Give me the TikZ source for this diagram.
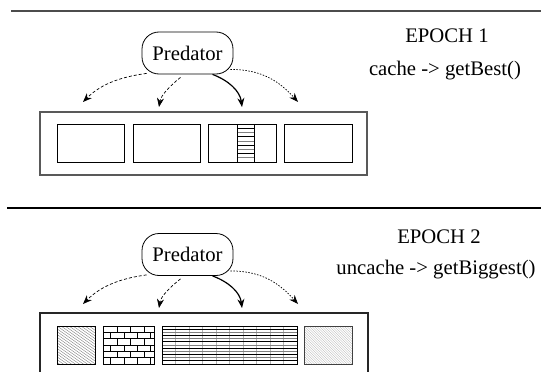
\documentclass[tikz,border=0pt]{standalone}
\usepackage{fontspec}
\setmainfont{Liberation Serif}
\usetikzlibrary{arrows.meta}
\begin{document}
\begin{tikzpicture}[x=1pt,y=-1pt,
  pred/.style={draw, rounded corners=17pt, minimum width=91pt, minimum height=42pt,
    line width=0.8pt, inner sep=0pt, font=\fontsize{20.7}{24}\selectfont},
  lbl/.style={anchor=base, inner sep=0pt, font=\fontsize{20.7}{24}\selectfont},
  cell/.style={draw, line width=0.9pt},
  outerbox/.style={draw=black!65, line width=1.3pt},
  sep/.style={line width=1.2pt},
  tip/.style={-{Stealth[length=9pt,width=7pt]}},
  dasharr/.style={tip, line width=0.7pt, dash pattern=on 3pt off 2pt},
  dotarr/.style={tip, line width=0.7pt, dash pattern=on 1.5pt off 1.5pt},
  solidarr/.style={tip, line width=1.2pt},
  hatch/.style={line width=0.4pt, draw=gray},
  fine/.style={line width=0.35pt, draw=gray!75},
  brick/.style={line width=0.6pt},
  hblack/.style={line width=0.8pt},
  hgray/.style={line width=0.6pt, draw=gray},
  vfaint/.style={line width=0.3pt, draw=gray!60}]
\clip (0,0) rectangle (541,372);
\fill[white] (0,0) rectangle (541,372);

% ---------------- EPOCH 1 ----------------
\draw[sep, black!70] (11,11) coordinate (s1a) -- (541,11) coordinate (s1b);
\node[lbl] (e1) at (447,42) {EPOCH 1};
\node[lbl] (c1) at (445,75) {cache -> getBest()};
\node[pred] (p1) at (187.5,53) {Predator};

\node[outerbox, minimum width=327pt, minimum height=63pt, inner sep=0pt] (o1) at (203.5,143.5) {};
\node[cell, minimum width=67pt, minimum height=38pt, inner sep=0pt] (a1) at (90.5,143) {};
\node[cell, minimum width=67pt, minimum height=38pt, inner sep=0pt] (a2) at (166.5,143) {};
% stripe inside third cell
\foreach \k in {1,3,5,7} \draw[hblack] (237,124+\k*38/9) -- (254,124+\k*38/9);
\foreach \k in {2,4,6,8} \draw[hgray] (237,124+\k*38/9) -- (254,124+\k*38/9);
\draw[line width=0.8pt] (237,124) -- (237,162) (254,124) -- (254,162);
\node[cell, minimum width=68pt, minimum height=38pt, inner sep=0pt] (a3) at (242,143) {};
\node[cell, minimum width=68pt, minimum height=38pt, inner sep=0pt] (a4) at (318,143) {};

\coordinate (t11) at (83,102);
\coordinate (t12) at (159,107);
\coordinate (t13) at (242,107);
\coordinate (t14) at (298,102);
\draw[dasharr] ([xshift=5pt,yshift=1pt]p1.south west) .. controls +(-30,4) and +(16,-16) .. (t11);
\draw[dasharr] ([xshift=-7pt,yshift=-3pt]p1.south) .. controls +(-10,8) and +(2,-12) .. (t12);
\draw[solidarr] ([xshift=25pt]p1.south) .. controls +(16,6) and +(-2,-16) .. (t13);
\draw[dotarr] ([xshift=-3pt,yshift=5pt]p1.south east) .. controls +(32,0) and +(-18,-20) .. (t14);

% ---------------- EPOCH 2 ----------------
\draw[sep, black] (7,208) coordinate (s2a) -- (541,208) coordinate (s2b);
\node[lbl] (e2) at (439,243) {EPOCH 2};
\node[lbl] (c2) at (436,274) {uncache -> getBiggest()};
\node[pred] (p2) at (187.5,254.5) {Predator};

\node[outerbox, draw=black!85, minimum width=328pt, minimum height=80pt, inner sep=0pt] (o2) at (204,353) {};

% box 1: diagonal hatch
\begin{scope}
\clip (57,326) rectangle (95,364);
\foreach \i in {-64,-60,...,40} \draw[hatch] (57+\i,326) -- ++(60,42);
\end{scope}
\node[cell, minimum width=38pt, minimum height=38pt, inner sep=0pt] (b1) at (76,345) {};

% box 2: bricks
\foreach \r in {1,...,5} \draw[brick] (103,326+\r*38/6) -- (154,326+\r*38/6);
\foreach \r in {0,2,4} \foreach \x in {117.3,130.7,144} \draw[brick] (\x,326+\r*38/6) -- ++(0,38/6);
\foreach \r in {1,3,5} \foreach \x in {110.7,124,137.3,150.7} \draw[brick] (\x,326+\r*38/6) -- ++(0,38/6);
\node[cell, minimum width=51pt, minimum height=38pt, inner sep=0pt] (b2) at (128.5,345) {};

% box 3: horizontal lines
\foreach \x in {175.5,189,...,296} \draw[vfaint] (\x,326) -- (\x,364);
\foreach \k in {1,3,...,11} \draw[hblack] (162,326+\k*38/12) -- (297,326+\k*38/12);
\foreach \k in {2,4,...,10} \draw[hgray] (162,326+\k*38/12) -- (297,326+\k*38/12);
\node[cell, minimum width=135pt, minimum height=38pt, inner sep=0pt] (b3) at (229.5,345) {};

% box 4: dense fine diagonal hatch
\begin{scope}
\clip (304,326) rectangle (352,364);
\foreach \i in {-50,-47.5,...,50} \draw[fine] (304+\i,326) -- ++(45,45);
\end{scope}
\node[cell, draw=black!75, minimum width=48pt, minimum height=38pt, inner sep=0pt] (b4) at (328,345) {};

\coordinate (t21) at (83,304);
\coordinate (t22) at (159,308);
\coordinate (t23) at (242,308);
\coordinate (t24) at (298,304);
\draw[dasharr] ([xshift=5pt,yshift=1pt]p2.south west) .. controls +(-30,4) and +(16,-16) .. (t21);
\draw[dasharr] ([xshift=-7pt,yshift=-3pt]p2.south) .. controls +(-10,8) and +(2,-12) .. (t22);
\draw[solidarr] ([xshift=25pt]p2.south) .. controls +(16,6) and +(-2,-16) .. (t23);
\draw[dotarr] ([xshift=-3pt,yshift=5pt]p2.south east) .. controls +(32,0) and +(-18,-20) .. (t24);
\end{tikzpicture}
\end{document}
